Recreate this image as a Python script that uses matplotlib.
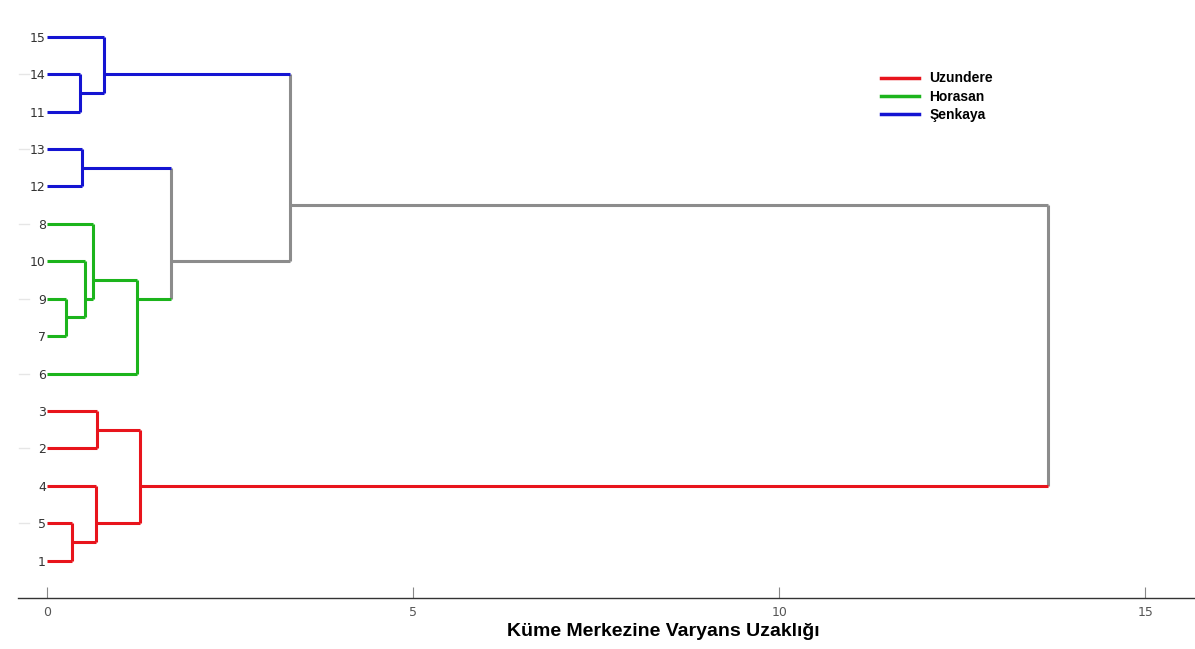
import numpy as np
import matplotlib.pyplot as plt

# leaf order from top to bottom
leaves = ['15', '14', '11', '13', '12', '8', '10', '9', '7', '6', '3', '2', '4', '5', '1']
leaf_color = ['b', 'b', 'b', 'b', 'b', 'g', 'g', 'g', 'g', 'g', 'r', 'r', 'r', 'r', 'r']

# merges: left child, right child, distance, joint position (in leaf rows), colour
# children < 15 are leaves (index in leaves), >= 15 are earlier merges
merge_a = [1, 0, 3, 7, 6, 5, 9, 17, 16, 10, 13, 12, 24, 23]
merge_b = [2, 15, 4, 8, 18, 19, 20, 21, 22, 11, 14, 25, 26, 27]
merge_h = [0.45, 0.78, 0.48, 0.25, 0.51, 0.63, 1.23, 1.69, 3.32, 0.68, 0.34, 0.66, 1.27, 13.67]
merge_y = [1.5, 1.0, 3.5, 7.5, 7.0, 6.5, 7.0, 6.0, 4.5, 10.5, 13.5, 13.0, 12.0, 4.5]
merge_c = ['b', 'b', 'b', 'g', 'g', 'g', 'g', 'k', 'k', 'r', 'r', 'r', 'r', 'k']

groups = ['Uzundere', 'Horasan', 'Şenkaya']
cols = {'r': '#e8141c', 'g': '#1cb41c', 'b': '#1414d2', 'k': '#8c8c8c'}

n = len(leaves)
node_h = [0.0] * n + merge_h
node_y = list(range(n)) + merge_y
node_c = leaf_color + merge_c

fig = plt.figure(figsize=(11.95, 6.49), dpi=100)
ax = fig.add_axes([18 / 1195, 51 / 649, 1177 / 1195, 578 / 649])

lw = 2.2
for i in range(len(merge_h)):
    a, b = merge_a[i], merge_b[i]
    h = merge_h[i]
    node = n + i
    ax.plot([h, h], [node_y[a], node_y[b]], color=cols[node_c[node]], lw=lw, solid_capstyle='butt')
    for ch in (a, b):
        ax.plot([node_h[ch], h], [node_y[ch], node_y[ch]], color=cols[node_c[ch]], lw=lw,
                solid_capstyle='butt')

ax.set_xlim(-0.4, 15.68)
ax.set_ylim(15.0, -0.45)

for s in ['top', 'right', 'left']:
    ax.spines[s].set_visible(False)
ax.spines['bottom'].set_color('#333333')
ax.spines['bottom'].set_linewidth(1.0)

ax.set_xticks([0, 5, 10, 15])
ax.tick_params(axis='x', direction='in', length=8, color='#888888', labelsize=9,
               labelcolor='#555555', pad=6)
ax.set_yticks(range(n))
ax.set_yticklabels(leaves)
ax.tick_params(axis='y', length=0, pad=-20, labelsize=9, labelcolor='#333333')
for t in ax.get_yticklabels():
    t.set_horizontalalignment('right')

# faint marks at the left edge
for k in range(1, n, 2):
    ax.plot([-0.38, -0.25], [k, k], color='#e6e6e6', lw=1)

fig.text(663 / 1195, 1 - 631 / 649, 'Küme Merkezine Varyans Uzaklığı', ha='center', va='center',
         fontsize=14, fontweight='bold', family='Liberation Sans')

handles = [plt.Line2D([], [], color=cols[c], lw=2.5) for c in ['r', 'g', 'b']]
leg = fig.legend(handles, groups, loc='upper left', bbox_to_anchor=(868 / 1195, 1 - 59 / 649),
                 frameon=False, handlelength=2.75, handletextpad=0.75, labelspacing=0.3,
                 prop={'family': 'Liberation Sans', 'weight': 'bold', 'size': 10})

fig.savefig('out.png', dpi=100)
